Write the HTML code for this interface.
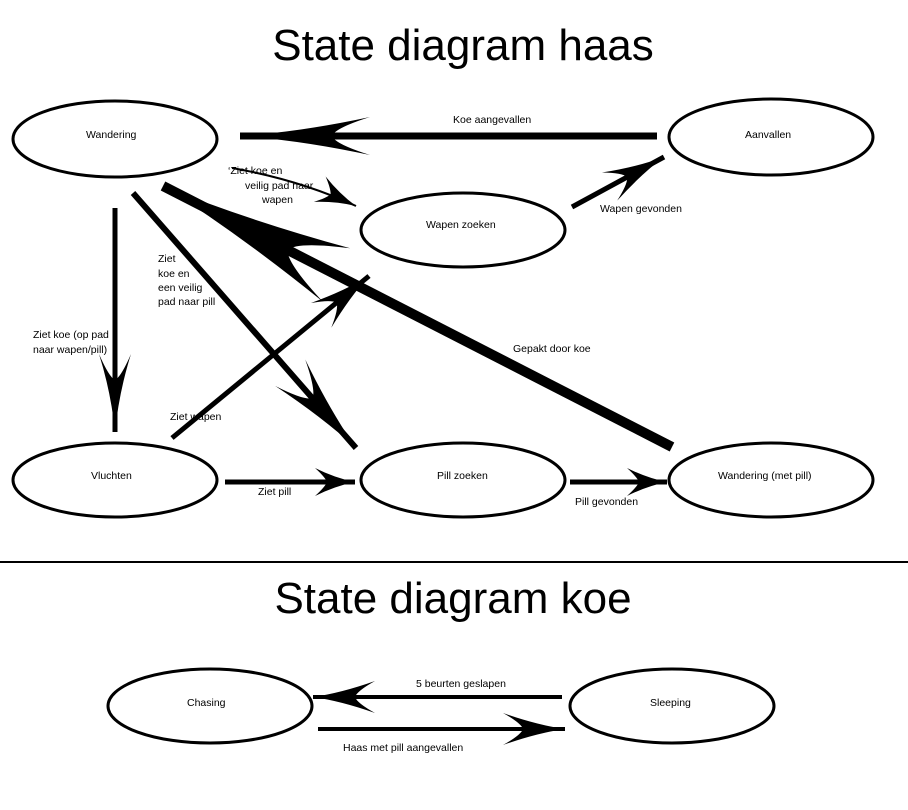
<!DOCTYPE html>
<html><head><meta charset="utf-8"><style>
html,body{margin:0;padding:0;background:#fff;}
svg{display:block;}
text{font-family:"Liberation Sans",sans-serif;fill:#000;}
.t{font-size:10.5px;}
.h{font-size:44px;}
</style></head><body>
<svg width="908" height="810" viewBox="0 0 908 810" xmlns="http://www.w3.org/2000/svg">
<defs>
<marker id="a1" markerUnits="userSpaceOnUse" orient="auto" refX="0" refY="0" markerWidth="10" markerHeight="10" style="overflow:visible">
<path d="M0,0 Q-60,-4 -130,-19 Q-95,-8 -92,0 Q-95,8 -130,19 Q-60,4 0,0Z"/></marker>
<marker id="a2" markerUnits="userSpaceOnUse" orient="auto" refX="0" refY="0" markerWidth="10" markerHeight="10" style="overflow:visible">
<path d="M0,0 Q-20,-4 -40,-14 Q-30,-5 -28,0 Q-30,5 -40,14 Q-20,4 0,0Z"/></marker>
<marker id="a3" markerUnits="userSpaceOnUse" orient="auto" refX="0" refY="0" markerWidth="10" markerHeight="10" style="overflow:visible">
<path d="M0,0 Q-90,-8 -195,-30 Q-145,-12 -140,0 Q-145,12 -195,30 Q-90,8 0,0Z"/></marker>
<marker id="a4" markerUnits="userSpaceOnUse" orient="auto" refX="0" refY="0" markerWidth="10" markerHeight="10" style="overflow:visible">
<path d="M0,0 Q-40,-4 -78,-16 Q-55,-6 -52,0 Q-55,6 -78,16 Q-40,4 0,0Z"/></marker>
<marker id="a5" markerUnits="userSpaceOnUse" orient="auto" refX="0" refY="0" markerWidth="10" markerHeight="10" style="overflow:visible">
<path d="M0,0 Q-45,-5 -100,-20 Q-70,-8 -66,0 Q-70,8 -100,20 Q-45,5 0,0Z"/></marker>
<marker id="a6" markerUnits="userSpaceOnUse" orient="auto" refX="0" refY="0" markerWidth="10" markerHeight="10" style="overflow:visible">
<path d="M0,0 Q-28,-4 -62,-16 Q-44,-6 -42,0 Q-44,6 -62,16 Q-28,4 0,0Z"/></marker>
</defs>

<text class="h" x="463" y="60" text-anchor="middle">State diagram haas</text>
<text class="h" x="453" y="613" text-anchor="middle">State diagram koe</text>
<line x1="0" y1="562" x2="908" y2="562" stroke="#000" stroke-width="2"/>

<g fill="none" stroke="#000" stroke-width="3">
<ellipse cx="115" cy="139" rx="102" ry="38"/>
<ellipse cx="463" cy="230" rx="102" ry="37"/>
<ellipse cx="771" cy="137" rx="102" ry="38"/>
<ellipse cx="115" cy="480" rx="102" ry="37"/>
<ellipse cx="463" cy="480" rx="102" ry="37"/>
<ellipse cx="771" cy="480" rx="102" ry="37"/>
<ellipse cx="210" cy="706" rx="102" ry="37"/>
<ellipse cx="672" cy="706" rx="102" ry="37"/>
</g>

<g stroke="#000" fill="none">
<line x1="657" y1="136" x2="240" y2="136" stroke-width="7" marker-end="url(#a1)"/>
<path d="M232,168 Q300,180 356,206" stroke-width="2" marker-end="url(#a2)"/>
<line x1="572" y1="207" x2="664" y2="157" stroke-width="5" marker-end="url(#a6)"/>
<line x1="672" y1="447" x2="163" y2="186" stroke-width="10" marker-end="url(#a3)"/>
<line x1="115" y1="208" x2="115" y2="432" stroke-width="5" marker-end="url(#a4)"/>
<line x1="133" y1="193" x2="356" y2="448" stroke-width="6" marker-end="url(#a5)"/>
<line x1="172" y1="438" x2="369" y2="276" stroke-width="5" marker-end="url(#a6)"/>
<line x1="225" y1="482" x2="355" y2="482" stroke-width="5" marker-end="url(#a2)"/>
<line x1="570" y1="482" x2="667" y2="482" stroke-width="5" marker-end="url(#a2)"/>
<line x1="562" y1="697" x2="313" y2="697" stroke-width="4" marker-end="url(#a6)"/>
<line x1="318" y1="729" x2="565" y2="729" stroke-width="4" marker-end="url(#a6)"/>
</g>

<g class="t">
<text x="86" y="138">Wandering</text>
<text x="426" y="228">Wapen zoeken</text>
<text x="745" y="138">Aanvallen</text>
<text x="91" y="479">Vluchten</text>
<text x="437" y="479">Pill zoeken</text>
<text x="718" y="479">Wandering (met pill)</text>
<text x="187" y="706">Chasing</text>
<text x="650" y="706">Sleeping</text>

<text x="453" y="123">Koe aangevallen</text>
<text x="228" y="174">‘Ziet koe en</text>
<text x="245" y="189">veilig pad naar</text>
<text x="262" y="203">wapen</text>
<text x="600" y="212">Wapen gevonden</text>
<text x="513" y="352">Gepakt door koe</text>
<text x="158" y="262">Ziet</text>
<text x="158" y="277">koe en</text>
<text x="158" y="291">een veilig</text>
<text x="158" y="305">pad naar pill</text>
<text x="33" y="338">Ziet koe (op pad</text>
<text x="33" y="353">naar wapen/pill)</text>
<text x="170" y="420">Ziet wapen</text>
<text x="258" y="495">Ziet pill</text>
<text x="575" y="505">Pill gevonden</text>
<text x="416" y="687">5 beurten geslapen</text>
<text x="343" y="751">Haas met pill aangevallen</text>
</g>
</svg>
</body></html>
